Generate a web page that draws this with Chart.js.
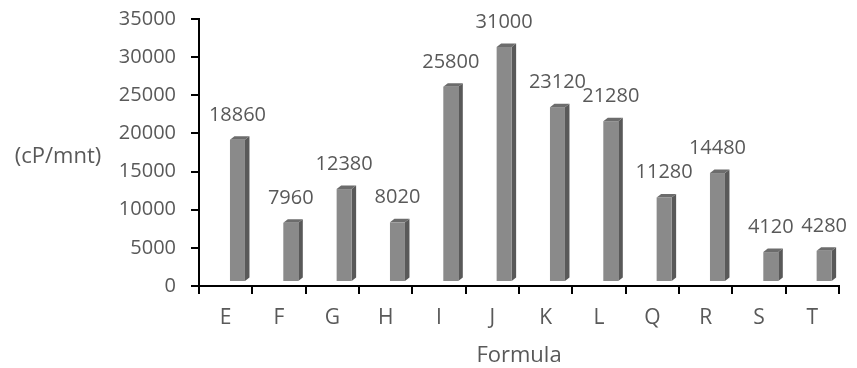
<!DOCTYPE html>
<html>
<head>
<meta charset="utf-8">
<script src="https://cdn.jsdelivr.net/npm/chart.js@4/dist/chart.umd.min.js"></script>
<style>
  html, body { margin: 0; padding: 0; background: #ffffff; }
  #wrap { width: 857px; height: 368px; }
</style>
</head>
<body>
<div id="wrap"><canvas id="chart" width="857" height="368"></canvas></div>
<script>
// Viscosity change per formula
const categories = ['E', 'F', 'G', 'H', 'I', 'J', 'K', 'L', 'Q', 'R', 'S', 'T'];
const viscosity = [18860, 7960, 12380, 8020, 25800, 31000, 23120, 21280, 11280, 14480, 4120, 4280];
const yMin = 0;
const yMax = 35000;
const yStep = 5000;
const xTitle = 'Formula';
const yTitle = '(cP/mnt)';

const FONT = "'Open Sans', 'Liberation Sans', sans-serif";
const TEXT = '#595959';

// Draws each column as a shaded box (front, right side, top) plus its value label
const columns3d = {
  id: 'columns3d',
  afterDatasetsDraw(chart) {
    const ctx = chart.ctx;
    const meta = chart.getDatasetMeta(0);
    const data = chart.data.datasets[0].data;
    const w = 15, dx = 4.5, dy = 3.5;
    ctx.save();
    meta.data.forEach((bar, i) => {
      const p = bar.getProps(['x', 'y', 'base'], true);
      const left = p.x + 4.3;
      const top = p.y - 2.5;
      const bottom = p.base - 4;
      // right side
      ctx.fillStyle = '#595959';
      ctx.beginPath();
      ctx.moveTo(left + w, top);
      ctx.lineTo(left + w + dx, top - dy);
      ctx.lineTo(left + w + dx, bottom - dy);
      ctx.lineTo(left + w, bottom);
      ctx.closePath();
      ctx.fill();
      // top
      ctx.fillStyle = '#6c6c6c';
      ctx.beginPath();
      ctx.moveTo(left, top);
      ctx.lineTo(left + dx, top - dy);
      ctx.lineTo(left + w + dx, top - dy);
      ctx.lineTo(left + w, top);
      ctx.closePath();
      ctx.fill();
      // front
      ctx.fillStyle = '#8a8a8a';
      ctx.fillRect(left, top, w, bottom - top);
      // value label
      ctx.fillStyle = TEXT;
      ctx.font = '20px ' + FONT;
      ctx.textAlign = 'center';
      ctx.textBaseline = 'alphabetic';
      ctx.fillText(String(data[i]), left + w / 2, top - 19);
    });
    ctx.restore();
  },
  afterDraw(chart) {
    const ctx = chart.ctx;
    ctx.save();
    ctx.fillStyle = TEXT;
    ctx.font = '22px ' + FONT;
    ctx.textAlign = 'center';
    ctx.textBaseline = 'middle';
    ctx.fillText(yTitle, 58, 157);
    ctx.restore();
  }
};

function draw() {
  new Chart(document.getElementById('chart'), {
    type: 'bar',
    data: {
      labels: categories,
      datasets: [{
        data: viscosity,
        backgroundColor: 'rgba(0,0,0,0)',
        borderWidth: 0
      }]
    },
    options: {
      responsive: false,
      animation: false,
      devicePixelRatio: 1,
      layout: { padding: { top: 19, right: 18, left: 0, bottom: 0 } },
      plugins: { legend: { display: false }, tooltip: { enabled: false } },
      scales: {
        x: {
          grid: { drawOnChartArea: false, drawTicks: true, tickLength: 8, color: '#000000', lineWidth: 2 },
          border: { display: true, color: '#000000', width: 2 },
          ticks: { color: TEXT, font: { family: FONT, size: 21 }, padding: 11 },
          title: { display: true, text: xTitle, color: TEXT, font: { family: FONT, size: 22, lineHeight: 1.1 }, padding: { top: 0, bottom: 0 } },
          afterFit(s) { s.height = 82; s.paddingLeft = 0; s.paddingRight = 0; }
        },
        y: {
          min: yMin,
          max: yMax,
          grid: { drawOnChartArea: false, drawTicks: true, tickLength: 8, color: '#000000', lineWidth: 2 },
          border: { display: true, color: '#000000', width: 2 },
          ticks: { stepSize: yStep, color: TEXT, font: { family: FONT, size: 20 }, padding: 15,
                   callback: (v) => String(v) },
          afterFit(s) { s.width = 199; s.paddingTop = 0; s.paddingBottom = 0; }
        }
      }
    },
    plugins: [columns3d]
  });
}

if (document.fonts && document.fonts.load) {
  document.fonts.load('20px "Open Sans"').then(draw, draw);
} else {
  draw();
}
</script>
</body>
</html>
